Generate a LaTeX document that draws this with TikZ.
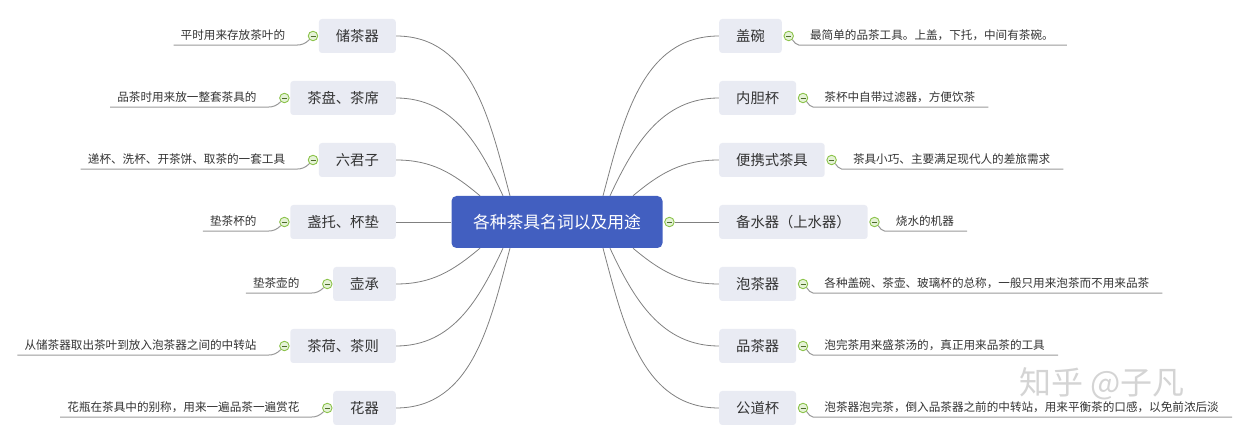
\documentclass[tikz,border=0pt]{standalone}
\usepackage{fontspec}
\setmainfont{Noto Sans CJK SC}
\usetikzlibrary{positioning,backgrounds}
\definecolor{rootblue}{RGB}{66,95,192}
\definecolor{topicfill}{RGB}{233,235,243}
\definecolor{inkgray}{RGB}{51,51,51}
\definecolor{linegray}{RGB}{128,128,128}
\definecolor{togglegreen}{RGB}{139,195,74}

\begin{document}
\begin{tikzpicture}[x=1pt, y=1pt,
 root/.style={fill=rootblue, text=white, rounded corners=5pt, minimum width=211pt,
   minimum height=52pt, font=\fontsize{16.8}{20}\selectfont},
 topic/.style={fill=topicfill, text=inkgray, rounded corners=3pt, minimum height=34pt,
   inner xsep=17pt, font=\fontsize{14.3}{17}\selectfont},
 toggle/.style={circle, draw=togglegreen, fill=togglegreen!22, line width=0.9pt,
   minimum size=9.5pt, inner sep=0pt,
   path picture={\draw[togglegreen!55!black, line width=0.7pt]
     ([xshift=-2.5pt]path picture bounding box.center) -- ([xshift=2.5pt]path picture bounding box.center);}},
 note/.style={text=inkgray, inner xsep=7pt, inner ysep=3pt, text height=9.5pt,
   text depth=2.3pt, font=\fontsize{11.6}{14}\selectfont},
 branch/.style={draw=linegray, line width=0.8pt},
 uline/.style={draw=linegray!80, line width=1pt}]
\useasboundingbox (0,0) rectangle (1251,447);

\node[root] (root) at (557,225) {各种茶具名词以及用途};
\node[toggle, right=1.5pt of root] (root-t) {};

% left side
\node[topic, anchor=east] (store) at (396,411) {储茶器};
\node[toggle, left=0.5pt of store] (store-t) {};
\node[note, left=15.5pt of store-t] (store-n) {平时用来存放茶叶的};

\node[topic, anchor=east] (tray) at (396,349) {茶盘、茶席};
\node[toggle, left=0.5pt of tray] (tray-t) {};
\node[note, left=15.5pt of tray-t] (tray-n) {品茶时用来放一整套茶具的};

\node[topic, anchor=east] (sixtools) at (396,287) {六君子};
\node[toggle, left=0.5pt of sixtools] (sixtools-t) {};
\node[note, left=15.5pt of sixtools-t] (sixtools-n) {递杯、洗杯、开茶饼、取茶的一套工具};

\node[topic, anchor=east] (saucer) at (396,225) {盏托、杯垫};
\node[toggle, left=0.5pt of saucer] (saucer-t) {};
\node[note, left=15.5pt of saucer-t] (saucer-n) {垫茶杯的};

\node[topic, anchor=east] (potstand) at (396,163) {壶承};
\node[toggle, left=0.5pt of potstand] (potstand-t) {};
\node[note, left=15.5pt of potstand-t] (potstand-n) {垫茶壶的};

\node[topic, anchor=east] (scoop) at (396,101) {茶荷、茶则};
\node[toggle, left=0.5pt of scoop] (scoop-t) {};
\node[note, left=15.5pt of scoop-t] (scoop-n) {从储茶器取出茶叶到放入泡茶器之间的中转站};

\node[topic, anchor=east] (vase) at (396,39) {花器};
\node[toggle, left=0.5pt of vase] (vase-t) {};
\node[note, left=15.5pt of vase-t] (vase-n) {花瓶在茶具中的别称，用来一遍品茶一遍赏花};

% right side
\node[topic, anchor=west] (gaiwan) at (719,411) {盖碗};
\node[toggle, right=1.5pt of gaiwan] (gaiwan-t) {};
\node[note, right=9pt of gaiwan-t] (gaiwan-n) {最简单的品茶工具。上盖，下托，中间有茶碗。};

\node[topic, anchor=west] (infuser) at (719,349) {内胆杯};
\node[toggle, right=1.5pt of infuser] (infuser-t) {};
\node[note, right=9pt of infuser-t] (infuser-n) {茶杯中自带过滤器，方便饮茶};

\node[topic, anchor=west] (travel) at (719,287) {便携式茶具};
\node[toggle, right=1.5pt of travel] (travel-t) {};
\node[note, right=9pt of travel-t] (travel-n) {茶具小巧、主要满足现代人的差旅需求};

\node[topic, anchor=west] (kettle) at (719,225) {备水器（上水器）};
\node[toggle, right=1.5pt of kettle] (kettle-t) {};
\node[note, right=9pt of kettle-t] (kettle-n) {烧水的机器};

\node[topic, anchor=west] (brewer) at (719,163) {泡茶器};
\node[toggle, right=1.5pt of brewer] (brewer-t) {};
\node[note, right=9pt of brewer-t] (brewer-n) {各种盖碗、茶壶、玻璃杯的总称，一般只用来泡茶而不用来品茶};

\node[topic, anchor=west] (cups) at (719,101) {品茶器};
\node[toggle, right=1.5pt of cups] (cups-t) {};
\node[note, right=9pt of cups-t] (cups-n) {泡完茶用来盛茶汤的，真正用来品茶的工具};

\node[topic, anchor=west] (pitcher) at (719,39) {公道杯};
\node[toggle, right=1.5pt of pitcher] (pitcher-t) {};
\node[note, right=9pt of pitcher-t] (pitcher-n) {泡茶器泡完茶，倒入品茶器之前的中转站，用来平衡茶的口感，以免前浓后淡};

% underlines of the notes
\draw[uline] (store-n.south west) -- (store-n.south east) -- ++(4,0) to[out=0, in=225] (store-t.south west);
\draw[uline] (tray-n.south west) -- (tray-n.south east) -- ++(4,0) to[out=0, in=225] (tray-t.south west);
\draw[uline] (sixtools-n.south west) -- (sixtools-n.south east) -- ++(4,0) to[out=0, in=225] (sixtools-t.south west);
\draw[uline] (saucer-n.south west) -- (saucer-n.south east) -- ++(4,0) to[out=0, in=225] (saucer-t.south west);
\draw[uline] (potstand-n.south west) -- (potstand-n.south east) -- ++(4,0) to[out=0, in=225] (potstand-t.south west);
\draw[uline] (scoop-n.south west) -- (scoop-n.south east) -- ++(4,0) to[out=0, in=225] (scoop-t.south west);
\draw[uline] (vase-n.south west) -- (vase-n.south east) -- ++(4,0) to[out=0, in=225] (vase-t.south west);
\draw[uline] ([xshift=6pt]gaiwan-n.south east) -- (gaiwan-n.south west) -- ++(-4,0) to[out=180, in=-45] (gaiwan-t.south east);
\draw[uline] ([xshift=6pt]infuser-n.south east) -- (infuser-n.south west) -- ++(-4,0) to[out=180, in=-45] (infuser-t.south east);
\draw[uline] ([xshift=6pt]travel-n.south east) -- (travel-n.south west) -- ++(-4,0) to[out=180, in=-45] (travel-t.south east);
\draw[uline] ([xshift=6pt]kettle-n.south east) -- (kettle-n.south west) -- ++(-4,0) to[out=180, in=-45] (kettle-t.south east);
\draw[uline] ([xshift=6pt]brewer-n.south east) -- (brewer-n.south west) -- ++(-4,0) to[out=180, in=-45] (brewer-t.south east);
\draw[uline] ([xshift=6pt]cups-n.south east) -- (cups-n.south west) -- ++(-4,0) to[out=180, in=-45] (cups-t.south east);
\draw[uline] ([xshift=6pt]pitcher-n.south east) -- (pitcher-n.south west) -- ++(-4,0) to[out=180, in=-45] (pitcher-t.south east);

% branches from the centre
\begin{scope}[on background layer]
\draw[branch] ([xshift=-47pt]root.north) to[out=105, in=0] (store.east);
\draw[branch] ([xshift=-54pt]root.north) to[out=115, in=0] (tray.east);
\draw[branch] ([xshift=-77pt]root.north) to[out=140, in=0] (sixtools.east);
\draw[branch] (root) -- (saucer);
\draw[branch] ([xshift=-77pt]root.south) to[out=-140, in=0] (potstand.east);
\draw[branch] ([xshift=-54pt]root.south) to[out=-115, in=0] (scoop.east);
\draw[branch] ([xshift=-47pt]root.south) to[out=-105, in=0] (vase.east);
\draw[branch] ([xshift=46pt]root.north) to[out=75, in=180] (gaiwan.west);
\draw[branch] ([xshift=53pt]root.north) to[out=65, in=180] (infuser.west);
\draw[branch] ([xshift=76pt]root.north) to[out=40, in=180] (travel.west);
\draw[branch] (root-t) -- (kettle);
\draw[branch] ([xshift=76pt]root.south) to[out=-40, in=180] (brewer.west);
\draw[branch] ([xshift=53pt]root.south) to[out=-65, in=180] (cups.west);
\draw[branch] ([xshift=46pt]root.south) to[out=-75, in=180] (pitcher.west);
\end{scope}

\node[text=gray!45, opacity=0.75, inner sep=0pt, font=\fontsize{32}{36}\selectfont] (mark) at (1102,63) {知乎 @子凡};
\end{tikzpicture}
\end{document}
